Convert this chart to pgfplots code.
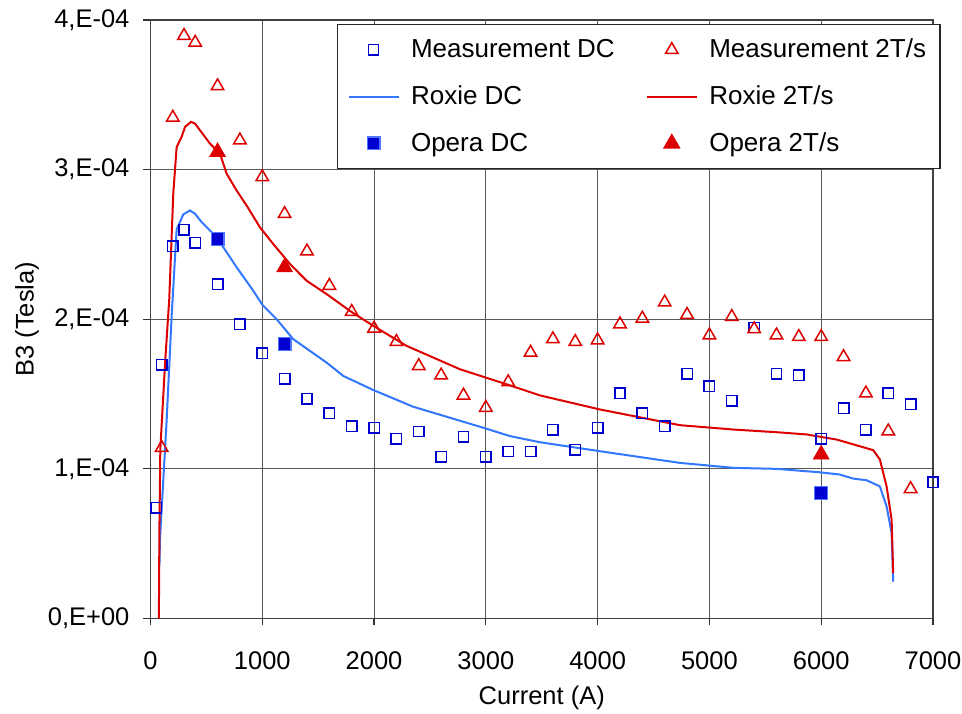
\documentclass[border=0pt]{standalone}
\usepackage{fontspec}
\setmainfont{Liberation Sans}
\usepackage{pgfplots}
\pgfplotsset{compat=1.18}

\definecolor{mdc}{RGB}{0,0,204}
\definecolor{red2t}{RGB}{221,0,0}
\definecolor{roxdc}{RGB}{51,119,255}
\definecolor{opdc}{RGB}{0,0,210}
\definecolor{opdcedge}{RGB}{80,120,255}

\newcommand{\chartfont}{\fontsize{12.75}{15}\selectfont}

\begin{document}
\begin{tikzpicture}
\begin{axis}[
    scale only axis,
    width=391.25pt, height=299.25pt,
    xmin=0, xmax=7000,
    ymin=0, ymax=4e-4,
    xtick={0,1000,...,7000},
    ytick={0,1e-4,2e-4,3e-4,4e-4},
    yticklabels={{0,E+00},{1,E-04},{2,E-04},{3,E-04},{4,E-04}},
    scaled y ticks=false,
    /pgf/number format/assume math mode=true,
    /pgf/number format/set thousands separator={},
    tick label style={font=\chartfont},
    xticklabel style={yshift=-9.5pt},
    yticklabel style={xshift=-3.5pt},
    label style={font=\chartfont},
    xlabel={Current (A)},
    ylabel={B3 (Tesla)},
    xlabel style={at={(axis description cs:0.5,-0.1328)}, anchor=center},
    ylabel style={at={(axis description cs:-0.1578,0.5)}, anchor=center},
    tick align=outside,
    xtick pos=bottom, ytick pos=left,
    major tick length=3.5pt,
    major tick style={black!80, line width=0.6pt},
    grid=major,
    major grid style={black!65, line width=0.55pt},
    axis line style={black!75, line width=0.9pt},
    legend columns=2,
    legend cell align=left,
    legend style={
        at={(0.2383,0.9928)}, anchor=north west,
        draw=black!85, line width=0.6pt,
        font=\fontsize{13}{15}\selectfont,
        inner xsep=5pt, inner ysep=5pt,
        row sep=8.5pt,
        /tikz/every odd column/.append style={column sep=3.75pt},
        /tikz/every even column/.append style={column sep=13.5pt},
    },
    legend image code/.code={
        \draw[mark repeat=2,mark phase=2,#1]
            plot coordinates {(0pt,0pt) (12.5pt,0pt) (25pt,0pt)};
    },
]

% Measurement DC
\addplot[only marks, mark=square, mark size=2.6pt, mdc,
    mark options={line width=0.75pt}] coordinates {
    (50,0.739e-4) (100,1.697e-4) (200,2.488e-4) (300,2.597e-4) (400,2.512e-4)
    (600,2.235e-4) (800,1.967e-4) (1000,1.773e-4) (1200,1.603e-4) (1400,1.469e-4)
    (1600,1.371e-4) (1800,1.286e-4) (2000,1.275e-4) (2200,1.201e-4) (2400,1.250e-4)
    (2600,1.080e-4) (2800,1.214e-4) (3000,1.080e-4) (3200,1.116e-4) (3400,1.116e-4)
    (3600,1.261e-4) (3800,1.129e-4) (4000,1.275e-4) (4200,1.505e-4) (4400,1.371e-4)
    (4600,1.286e-4) (4800,1.637e-4) (5000,1.552e-4) (5200,1.456e-4) (5400,1.945e-4)
    (5600,1.637e-4) (5800,1.625e-4) (6000,1.201e-4) (6200,1.406e-4) (6400,1.261e-4)
    (6600,1.505e-4) (6800,1.431e-4) (7000,0.910e-4)
};
\addlegendentry{Measurement DC}

% Measurement 2T/s
\addplot[only marks, mark=triangle, mark size=3.6pt, red2t,
    mark options={line width=0.75pt}] coordinates {
    (100,1.141e-4) (200,3.348e-4) (300,3.895e-4) (400,3.849e-4) (600,3.558e-4)
    (800,3.196e-4) (1000,2.950e-4) (1200,2.704e-4) (1400,2.454e-4) (1600,2.224e-4)
    (1800,2.050e-4) (2000,1.938e-4) (2200,1.849e-4) (2400,1.688e-4) (2600,1.625e-4)
    (2800,1.491e-4) (3000,1.409e-4) (3200,1.580e-4) (3400,1.777e-4) (3600,1.867e-4)
    (3800,1.849e-4) (4000,1.860e-4) (4200,1.967e-4) (4400,2.005e-4) (4600,2.113e-4)
    (4800,2.030e-4) (5000,1.893e-4) (5200,2.016e-4) (5400,1.934e-4) (5600,1.893e-4)
    (5800,1.882e-4) (6000,1.882e-4) (6200,1.748e-4) (6400,1.505e-4) (6600,1.252e-4)
    (6800,0.866e-4)
};
\addlegendentry{Measurement 2T/s}

% Roxie DC
\addplot[roxdc, line width=1pt, no marks] coordinates {
    (80,0.35e-4) (85,0.53e-4) (145,1.33e-4) (190,2.03e-4) (234,2.60e-4)
    (293,2.70e-4) (353,2.727e-4) (398,2.705e-4) (458,2.649e-4) (592,2.548e-4)
    (771,2.347e-4) (920,2.19e-4) (1003,2.094e-4) (1129,2.0e-4) (1277,1.867e-4)
    (1576,1.71e-4) (1725,1.621e-4) (1993,1.527e-4) (2351,1.415e-4) (2977,1.275e-4)
    (3216,1.219e-4) (3484,1.178e-4) (4020,1.118e-4) (4736,1.04e-4) (5213,1.007e-4)
    (5601,1.0e-4) (5988,0.977e-4) (6167,0.962e-4) (6286,0.935e-4) (6406,0.924e-4)
    (6525,0.883e-4) (6585,0.749e-4) (6630,0.571e-4) (6644,0.247e-4)
};
\addlegendentry{Roxie DC}

% Roxie 2T/s
\addplot[red2t, line width=1pt, no marks] coordinates {
    (75,0) (80,0.6e-4) (88,1.13e-4) (130,1.7e-4) (168,2.135e-4) (204,2.84e-4)
    (234,3.15e-4) (279,3.22e-4) (309,3.285e-4) (362,3.319e-4) (398,3.308e-4)
    (532,3.174e-4) (622,3.107e-4) (681,2.973e-4) (771,2.86e-4) (860,2.76e-4)
    (979,2.615e-4) (1098,2.503e-4) (1248,2.369e-4) (1397,2.257e-4) (1576,2.168e-4)
    (1784,2.056e-4) (1993,1.956e-4) (2291,1.822e-4) (2768,1.666e-4) (3186,1.565e-4)
    (3484,1.491e-4) (4020,1.397e-4) (4736,1.292e-4) (5213,1.263e-4) (5601,1.245e-4)
    (5870,1.23e-4) (6138,1.196e-4) (6466,1.125e-4) (6525,1.062e-4) (6585,0.883e-4)
    (6630,0.66e-4) (6644,0.303e-4)
};
\addlegendentry{Roxie 2T/s}

% Opera DC
\addplot[only marks, mark=square*, mark size=3.2pt,
    mark options={fill=opdc, draw=opdcedge, line width=0.6pt}] coordinates {
    (600,2.537e-4) (1200,1.833e-4) (6000,0.837e-4)
};
\addlegendentry{Opera DC}

% Opera 2T/s
\addplot[only marks, mark=triangle*, mark size=4.5pt, red2t,
    mark options={fill=red2t, draw=red2t}] coordinates {
    (600,3.118e-4) (1200,2.347e-4) (6000,1.096e-4)
};
\addlegendentry{Opera 2T/s}

\coordinate (bbsw) at (rel axis cs:-0.1923,-0.1579);
\coordinate (bbne) at (rel axis cs:1.0371,1.0334);
\end{axis}
\pgfresetboundingbox
\path (bbsw) rectangle (bbne);
\end{tikzpicture}
\end{document}
